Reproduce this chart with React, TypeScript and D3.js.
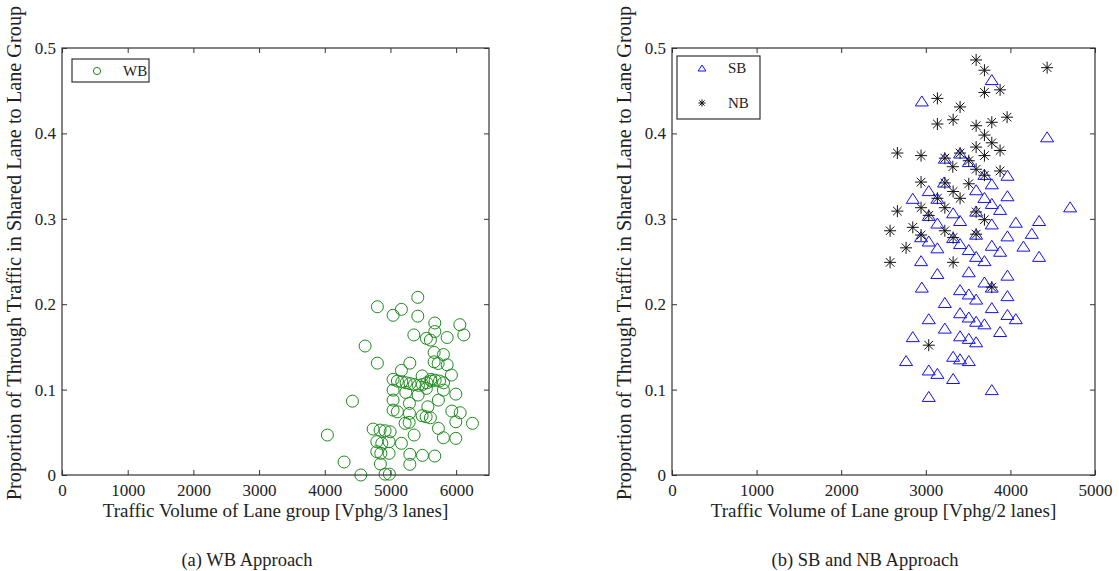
import * as d3 from "d3";
import { useRef, useEffect } from "react";

// axis ticks
const shareTicks = [0, 0.1, 0.2, 0.3, 0.4, 0.5];
const wbVolumeTicks = [0, 1000, 2000, 3000, 4000, 5000, 6000];
const sbnbVolumeTicks = [0, 1000, 2000, 3000, 4000, 5000];

// (a) WB approach: volume [vphg/3 lanes] and through share
const wbVolume = [
  5416, 4801, 5167, 5040, 5416, 5675, 6056, 5675, 6117, 5356, 5547, 5608, 5863, 4614, 5665, 5806,
  4801, 5295, 5665, 5726, 5863, 5167, 5928, 5482, 5614,
  5040, 5106, 5173, 5238, 5299, 5365, 5426, 5487, 5554, 5619, 5680, 5747, 5808,
  5040, 5234, 5421, 5547, 5806, 5995, 4421, 5040, 5289, 5730, 5569, 5040, 5106, 5289, 5482, 5543,
  5608, 5934, 6061, 5995, 6248, 5223, 5284, 4040, 4736, 4842, 4918, 4995, 5730, 5360, 5806, 5995,
  4792, 4868, 4979, 5167, 4792, 4853, 4979, 5295, 5487, 5675, 4294, 4847, 5295, 4549, 4918, 4984,
];
const wbShare = [
  0.208, 0.197, 0.194, 0.187, 0.186, 0.178, 0.176, 0.168, 0.164, 0.164, 0.16, 0.158, 0.161, 0.151, 0.1435, 0.141,
  0.131, 0.131, 0.1325, 0.1306, 0.129, 0.1225, 0.117, 0.116, 0.112,
  0.112, 0.11, 0.109, 0.108, 0.107, 0.106, 0.105, 0.106, 0.108, 0.11, 0.111, 0.11, 0.108,
  0.0994, 0.0967, 0.0936, 0.1014, 0.0994, 0.0947, 0.0865, 0.0877, 0.0839, 0.0877, 0.0799, 0.076, 0.074, 0.0722, 0.0694, 0.0682,
  0.067, 0.0749, 0.0729, 0.0623, 0.0605, 0.0605, 0.0616, 0.0468, 0.0538, 0.0526, 0.0518, 0.0506, 0.0546, 0.0468, 0.0436, 0.0429,
  0.039, 0.0371, 0.039, 0.0371, 0.0273, 0.0254, 0.0254, 0.0242, 0.023, 0.0222, 0.0152, 0.0129, 0.0125, 0.0, 0.001, 0.001,
];

// (b) SB approach [vphg/2 lanes]
const sbVolume = [
  2953, 3780, 4434, 3225, 3405, 3508, 3216, 3693, 3965, 3780, 3035, 2846, 3137, 3595, 3693, 3965,
  3780, 3878, 3035, 3323, 3595, 4706, 3137, 3405, 3780, 4064, 4339, 2944, 3035, 3323, 3595, 3965,
  4253, 3137, 3405, 3508, 3780, 3878, 4154, 3595, 3693, 4339, 2944, 3137, 3508, 3965, 3693, 3780,
  2953, 3405, 3508, 3595, 3965, 3225, 3780, 3405, 3508, 3595, 3693, 3965, 4064, 3035, 3225, 3878,
  2846, 3405, 3508, 3595, 3323, 3405, 3508, 2767, 3035, 3137, 3323, 3780, 3035,
];
const sbShare = [
  0.438, 0.463, 0.396, 0.371, 0.377, 0.367, 0.343, 0.352, 0.351, 0.341, 0.333, 0.324, 0.324, 0.334, 0.325, 0.327,
  0.318, 0.311, 0.304, 0.307, 0.309, 0.314, 0.295, 0.298, 0.294, 0.296, 0.298, 0.279, 0.274, 0.278, 0.282, 0.28,
  0.283, 0.266, 0.271, 0.264, 0.269, 0.262, 0.268, 0.256, 0.251, 0.256, 0.251, 0.236, 0.238, 0.234, 0.226, 0.22,
  0.22, 0.217, 0.212, 0.206, 0.21, 0.202, 0.196, 0.19, 0.185, 0.18, 0.177, 0.188, 0.183, 0.183, 0.172, 0.168,
  0.162, 0.163, 0.16, 0.156, 0.139, 0.136, 0.134, 0.134, 0.123, 0.119, 0.113, 0.1, 0.092,
];

// (b) NB approach [vphg/2 lanes]
const nbVolume = [
  3595, 3693, 4434, 3693, 3878, 3137, 3405, 3961, 3137, 3323, 3595, 3780, 3693, 3780, 3595, 3878,
  2664, 2944, 3693, 3225, 3405, 3508, 3319, 3595, 3878, 3693, 2944, 3225, 3508, 3323, 3405, 3137,
  2664, 2944, 3225, 3035, 3595, 3693, 2578, 2846, 3225, 2944, 3323, 3595, 2767, 2578, 3323, 3780, 3035,
];
const nbShare = [
  0.486, 0.474, 0.477, 0.448, 0.451, 0.441, 0.431, 0.419, 0.411, 0.416, 0.409, 0.413, 0.398, 0.389, 0.384, 0.38,
  0.377, 0.374, 0.374, 0.371, 0.377, 0.368, 0.361, 0.358, 0.356, 0.351, 0.343, 0.342, 0.341, 0.332, 0.324, 0.324,
  0.309, 0.313, 0.313, 0.304, 0.308, 0.299, 0.286, 0.29, 0.286, 0.281, 0.278, 0.282, 0.266, 0.249, 0.249, 0.22, 0.152,
];

const FONT = "Liberation Serif, Tinos, DejaVu Serif, serif";
const INK = "#222";
const top = 48;
const bottom = 475;

function Marker({ shape, x, y, s = 1 }) {
  if (shape === "circle")
    return <circle cx={x} cy={y} r={6 * s} fill="none" stroke="#1b8a1b" strokeWidth={1} />;
  if (shape === "triangle")
    return (
      <path
        transform={`translate(${x},${y}) scale(${s})`}
        d="M0,-5L6.5,5L-6.5,5Z"
        fill="none"
        stroke="#1010f0"
        strokeWidth={1 / s}
      />
    );
  const a = 6 * s, b = 4.3 * s;
  return (
    <g stroke="#111" strokeWidth={1}>
      <line x1={x - a} y1={y} x2={x + a} y2={y} />
      <line x1={x} y1={y - a} x2={x} y2={y + a} />
      <line x1={x - b} y1={y - b} x2={x + b} y2={y + b} />
      <line x1={x - b} y1={y + b} x2={x + b} y2={y - b} />
    </g>
  );
}

function Panel({ left, right, xMax, xTicks, xTitle, caption, captionX, series, legend }) {
  const gx = useRef();
  const gxTop = useRef();
  const gy = useRef();
  const gyRight = useRef();
  const x = d3.scaleLinear([0, xMax], [left, right]);
  const y = d3.scaleLinear([0, 0.5], [bottom, top]);

  useEffect(() => {
    const style = (g) => {
      g.attr("font-family", null).attr("font-size", null);
      g.select(".domain").remove();
      g.selectAll("line").attr("stroke", "#333");
      g.selectAll("text").attr("fill", INK).style("font-family", FONT).style("font-size", "17px");
    };
    d3.select(gx.current)
      .call(d3.axisBottom(x).tickValues(xTicks).tickSizeInner(-5).tickSizeOuter(0).tickPadding(9).tickFormat(d3.format("d")))
      .call(style);
    d3.select(gxTop.current)
      .call(d3.axisTop(x).tickValues(xTicks).tickSizeInner(-5).tickSizeOuter(0).tickFormat(() => ""))
      .call(style);
    d3.select(gy.current)
      .call(d3.axisLeft(y).tickValues(shareTicks).tickSizeInner(-5).tickSizeOuter(0).tickPadding(6).tickFormat((d) => String(d)))
      .call(style);
    d3.select(gyRight.current)
      .call(d3.axisRight(y).tickValues(shareTicks).tickSizeInner(-5).tickSizeOuter(0).tickFormat(() => ""))
      .call(style);
  }, [left, right, xMax]);

  const midX = (left + right) / 2;
  const txt = (size) => ({ fontFamily: FONT, fontSize: `${size}px` });
  return (
    <g>
      {series.map((s) => (
        <g key={s.name}>
          {s.xs.map((v, i) => (
            <Marker key={i} shape={s.shape} x={x(v)} y={y(s.ys[i])} />
          ))}
        </g>
      ))}
      <rect x={left} y={top} width={right - left} height={bottom - top} fill="none" stroke="#333" strokeWidth={1.2} />
      <g ref={gx} transform={`translate(0,${bottom})`} />
      <g ref={gxTop} transform={`translate(0,${top})`} />
      <g ref={gy} transform={`translate(${left},0)`} />
      <g ref={gyRight} transform={`translate(${right},0)`} />
      <g transform={`translate(${left + legend.dx},${top + legend.dy})`}>
        <rect width={legend.w} height={legend.h} fill="#fff" stroke="#333" strokeWidth={1.2} />
        {series.map((s, i) => (
          <g key={s.name}>
            <Marker shape={s.shape} x={25} y={legend.rowY[i]} s={0.6} />
            <text x={51} y={legend.rowY[i] + 5} style={txt(15)} fill={INK}>
              {s.name}
            </text>
          </g>
        ))}
      </g>
      <text x={midX} y={517} textAnchor="middle" style={txt(19)} fill={INK}>
        {xTitle}
      </text>
      <text
        transform={`translate(${left - 41},253) rotate(-90)`}
        textAnchor="middle"
        style={txt(20.3)}
        fill={INK}
      >
        Proportion of Through Traffic in Shared Lane to Lane Group
      </text>
      <text x={captionX} y={566} textAnchor="middle" style={txt(18.5)} fill={INK}>
        {caption}
      </text>
    </g>
  );
}

export default function App() {
  return (
    <svg width={1119} height={571} style={{ position: "absolute", left: 0, top: 0, background: "#fff" }}>
      <Panel
        left={62}
        right={489}
        xMax={6500}
        xTicks={wbVolumeTicks}
        xTitle="Traffic Volume of Lane group [Vphg/3 lanes]"
        caption="(a) WB Approach"
        captionX={247}
        series={[{ name: "WB", shape: "circle", xs: wbVolume, ys: wbShare }]}
        legend={{ dx: 10, dy: 11, w: 77, h: 23, rowY: [12] }}
      />
      <Panel
        left={672}
        right={1095}
        xMax={5000}
        xTicks={sbnbVolumeTicks}
        xTitle="Traffic Volume of Lane group [Vphg/2 lanes]"
        caption="(b) SB and NB Approach"
        captionX={865}
        series={[
          { name: "SB", shape: "triangle", xs: sbVolume, ys: sbShare },
          { name: "NB", shape: "star", xs: nbVolume, ys: nbShare },
        ]}
        legend={{ dx: 5, dy: 8, w: 83, h: 63, rowY: [12, 47] }}
      />
    </svg>
  );
}
